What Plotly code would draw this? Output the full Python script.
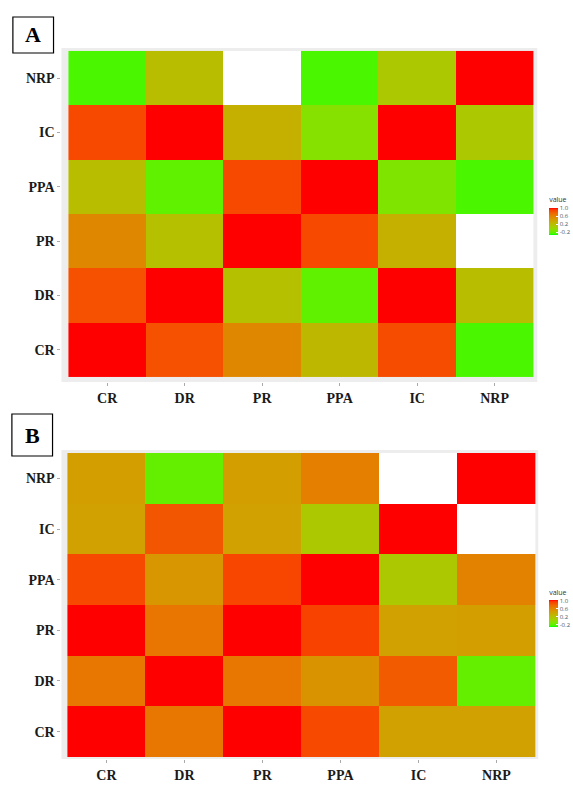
import numpy as np
import plotly.graph_objects as go

categories = ["CR", "DR", "PR", "PPA", "IC", "NRP"]

# rows ordered bottom (CR) to top (NRP); columns CR..NRP
values_a = [
    [1.00, 0.84, 0.57, 0.25, 0.86, -0.26],
    [0.84, 1.00, 0.18, -0.21, 1.00, 0.20],
    [0.57, 0.18, 1.00, 0.87, 0.30, None],
    [0.20, -0.21, 0.87, 1.00, -0.11, -0.26],
    [0.87, 1.00, 0.30, -0.08, 1.00, 0.12],
    [-0.26, 0.20, None, -0.26, 0.12, 1.00],
]
values_b = [
    [1.00, 0.66, 1.00, 0.87, 0.40, 0.40],
    [0.66, 1.00, 0.66, 0.50, 0.80, -0.20],
    [1.00, 0.67, 1.00, 0.89, 0.40, 0.42],
    [0.87, 0.48, 0.88, 1.00, 0.12, 0.60],
    [0.40, 0.82, 0.40, 0.12, 1.00, None],
    [0.42, -0.20, 0.42, 0.62, None, 1.00],
]
cbar_ticks = [1.0, 0.6, 0.2, -0.2]
cbar_ticktext = ["1.0", "0.6", "0.2", "-0.2"]
zmin, zmax = -0.33, 1.0


# ---- Lab gradient green -> red (like ggplot scale_fill_gradient) ----
def _lin(c):
    c = c / 255.0
    return np.where(c <= 0.04045, c / 12.92, ((c + 0.055) / 1.055) ** 2.4)


def _unlin(c):
    c = np.where(c <= 0.0031308, 12.92 * c, 1.055 * np.clip(c, 0, None) ** (1 / 2.4) - 0.055)
    return np.clip(np.round(c * 255), 0, 255)


M = np.array([[0.4124, 0.3576, 0.1805], [0.2126, 0.7152, 0.0722], [0.0193, 0.1192, 0.9505]])
WP = np.array([0.95047, 1.0, 1.08883])


def _f(t):
    return np.where(t > 0.008856, np.cbrt(t), 7.787 * t + 16 / 116)


def _finv(t):
    return np.where(t ** 3 > 0.008856, t ** 3, (t - 16 / 116) / 7.787)


def rgb2lab(rgb):
    xyz = M @ _lin(np.array(rgb, float)) / WP
    fx, fy, fz = _f(xyz)
    return np.array([116 * fy - 16, 500 * (fx - fy), 200 * (fy - fz)])


def lab2rgb(lab):
    L, a, b = lab
    fy = (L + 16) / 116
    fx = fy + a / 500
    fz = fy - b / 200
    xyz = np.array([_finv(fx), _finv(fy), _finv(fz)]) * WP
    return _unlin(np.linalg.solve(M, xyz))


low, high = rgb2lab([0, 255, 0]), rgb2lab([255, 0, 0])
colorscale = []
for t in np.linspace(0, 1, 21):
    r, g, b = lab2rgb(low + (high - low) * t)
    colorscale.append([float(t), f"rgb({int(r)},{int(g)},{int(b)})"])

fig = go.Figure()

panels = [
    dict(z=values_a, xa="x", ya="y", cby=0.7268),
    dict(z=values_b, xa="x2", ya="y2", cby=0.2268),
]

for p in panels:
    zz = np.array(p["z"], dtype=float)
    # white underlay for every cell (missing cells show white)
    fig.add_trace(go.Heatmap(
        x=categories, y=categories, z=np.ones_like(zz).tolist(),
        colorscale=[[0, "white"], [1, "white"]], showscale=False,
        hoverinfo="skip", xaxis=p["xa"], yaxis=p["ya"]))
    fig.add_trace(go.Heatmap(
        x=categories, y=categories, z=p["z"], zmin=zmin, zmax=zmax,
        colorscale=colorscale, xaxis=p["xa"], yaxis=p["ya"],
        colorbar=dict(
            title=dict(text="value", side="top", font=dict(size=7, color="#333")),
            thickness=9, thicknessmode="pixels", len=41, lenmode="pixels",
            x=0.9668, xanchor="left", xpad=0, y=p["cby"], yanchor="middle", ypad=0,
            tickvals=cbar_ticks, ticktext=cbar_ticktext, ticks="inside",
            ticklen=2, tickcolor="white",
            tickfont=dict(size=6, color="#555"), outlinewidth=0)))

axis_font = dict(family="Liberation Serif, Times New Roman, serif", size=14,
                 color="#1a1a1a", weight="bold")
common = dict(type="category", categoryorder="array", categoryarray=categories,
              showgrid=False, zeroline=False, showline=False, ticks="outside",
              ticklen=3, tickcolor="#aaaaaa", tickfont=axis_font, fixedrange=True)

fig.update_layout(
    width=573, height=785, margin=dict(l=0, r=0, t=0, b=0),
    paper_bgcolor="white", plot_bgcolor="#EDEDED", showlegend=False,
    xaxis=dict(domain=[0.1082, 0.9459], range=[-0.59, 5.55], anchor="y", **common),
    yaxis=dict(domain=[0.5134, 0.9389], range=[-0.59, 5.555], anchor="x", **common),
    xaxis2=dict(domain=[0.1082, 0.9476], range=[-0.576, 5.535], anchor="y2", **common),
    yaxis2=dict(domain=[0.0331, 0.4268], range=[-0.54, 5.56], anchor="x2", **common),
)

letter_font = dict(family="Liberation Serif, Times New Roman, serif", size=22,
                   color="black", weight="bold")
for label, (x0, y0, x1, y1) in [("A", (13, 17, 54, 53)), ("B", (12, 414, 53, 456))]:
    fig.add_shape(type="rect", xref="paper", yref="paper",
                  x0=x0 / 573, x1=x1 / 573, y0=1 - y1 / 785, y1=1 - y0 / 785,
                  line=dict(color="black", width=1.2), fillcolor="white")
    fig.add_annotation(text=label, xref="paper", yref="paper",
                       x=(x0 + x1) / 2 / 573, y=1 - (y0 + y1) / 2 / 785,
                       showarrow=False, font=letter_font,
                       xanchor="center", yanchor="middle")

fig.write_html("out.html")
